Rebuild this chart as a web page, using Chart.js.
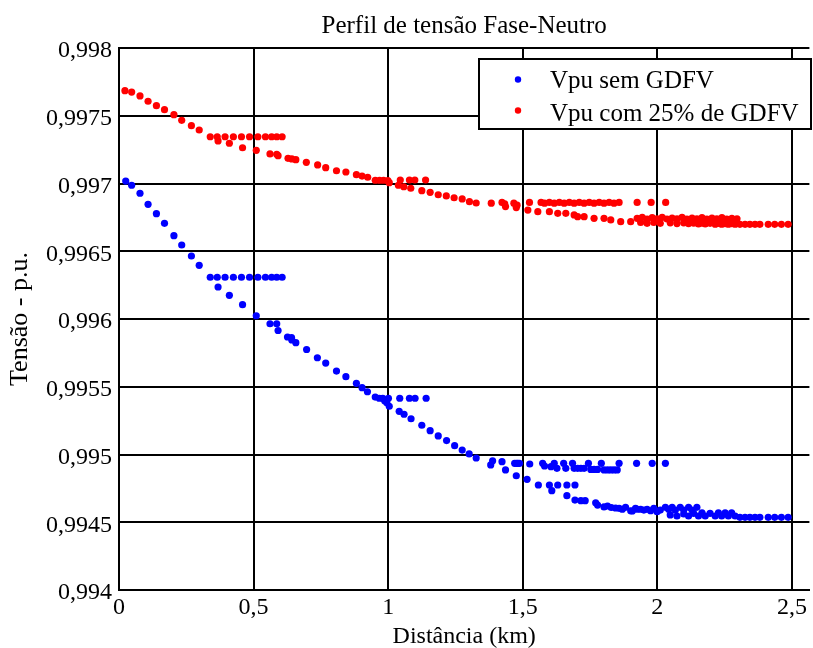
<!DOCTYPE html>
<html>
<head>
<meta charset="utf-8">
<script src="https://cdn.jsdelivr.net/npm/chart.js@4/dist/chart.umd.min.js"></script>
<style>
  html, body { margin: 0; padding: 0; background: #ffffff; }
  #wrap { width: 813px; height: 648px; }
</style>
</head>
<body>
<div id="wrap"><canvas id="chart" width="813" height="648"></canvas></div>
<script>
// Axis ticks
const xTicks = [0, 0.5, 1, 1.5, 2, 2.5];
const xTickLabels = ['0', '0,5', '1', '1,5', '2', '2,5'];
const yTicks = [0.994, 0.9945, 0.995, 0.9955, 0.996, 0.9965, 0.997, 0.9975, 0.998];
const yTickLabels = ['0,994', '0,9945', '0,995', '0,9955', '0,996', '0,9965', '0,997', '0,9975', '0,998'];

// Vpu sem GDFV: distance (km) and voltage (p.u.)
const semX = [
  0.025, 0.047, 0.078, 0.108, 0.139, 0.169, 0.204, 0.233, 0.269, 0.298,
  0.339, 0.365, 0.394, 0.425, 0.455, 0.485, 0.516, 0.544, 0.567, 0.586, 0.606,
  0.368, 0.410, 0.459, 0.510, 0.561, 0.586, 0.591, 0.626, 0.641, 0.642, 0.657,
  0.697, 0.737, 0.768, 0.808, 0.843, 0.882, 0.903, 0.923, 0.952, 0.967, 0.980,
  0.987, 0.995, 1.001, 1.004,
  1.043, 1.079, 1.100, 1.141,
  1.041, 1.059, 1.085, 1.125, 1.156, 1.186, 1.217, 1.247, 1.275, 1.301, 1.327,
  1.381, 1.388, 1.423,
  1.470, 1.477, 1.482, 1.488, 1.526, 1.574, 1.617, 1.652, 1.685, 1.744, 1.792, 1.858, 1.923, 1.981, 2.030,
  1.581, 1.605, 1.627, 1.660, 1.691, 1.704, 1.716, 1.728, 1.753, 1.765, 1.778, 1.802, 1.815, 1.827, 1.839, 1.851,
  1.436, 1.476, 1.516, 1.558, 1.599, 1.608, 1.630, 1.664, 1.694,
  1.664, 1.694, 1.716, 1.732, 1.771, 1.778, 1.802, 1.815, 1.829, 1.845, 1.870, 1.882, 1.907, 1.925,
  1.858, 1.901, 1.919, 1.938, 1.950, 1.962, 1.975, 1.987, 1.999, 2.011, 2.030, 2.042, 2.055, 2.067,
  2.085, 2.098, 2.116, 2.129, 2.147,
  2.048, 2.073, 2.098, 2.116, 2.135, 2.153, 2.166, 2.178, 2.196, 2.215, 2.227, 2.239, 2.252, 2.264,
  2.276, 2.289,
  2.307, 2.326, 2.344, 2.363, 2.381, 2.412, 2.436, 2.461, 2.486
];
const semY = [
  0.997018, 0.996987, 0.996928, 0.996846, 0.996777, 0.996706, 0.996615, 0.996546, 0.996465, 0.996396,
  0.996308, 0.996308, 0.996308, 0.996308, 0.996308, 0.996308, 0.996308, 0.996308, 0.996308, 0.996308, 0.996308,
  0.996236, 0.996175, 0.996106, 0.996024, 0.995965, 0.995965, 0.995915, 0.995867, 0.995863, 0.995845, 0.995825,
  0.995775, 0.995714, 0.995675, 0.995616, 0.995574, 0.995525, 0.995493, 0.995463, 0.995424, 0.995415, 0.995415,
  0.995397, 0.995382, 0.995415, 0.995356,
  0.995415, 0.995415, 0.995415, 0.995415,
  0.995319, 0.995297, 0.995264, 0.995216, 0.995176, 0.995137, 0.995103, 0.995065, 0.995033, 0.995004, 0.994974,
  0.994923, 0.994954, 0.994947,
  0.994935, 0.994935, 0.994935, 0.994935, 0.994930, 0.994935, 0.994935, 0.994935, 0.994935, 0.994935, 0.994935, 0.994935, 0.994935, 0.994935, 0.994935,
  0.994915, 0.994910, 0.994898, 0.994898, 0.994898, 0.994898, 0.994898, 0.994898, 0.994890, 0.994890, 0.994890, 0.994886, 0.994886, 0.994886, 0.994886, 0.994886,
  0.994886, 0.994843, 0.994817, 0.994775, 0.994775, 0.994733, 0.994775, 0.994775, 0.994775,
  0.994696, 0.994664, 0.994659, 0.994659, 0.994644, 0.994627, 0.994613, 0.994620, 0.994609, 0.994605, 0.994596, 0.994610, 0.994583, 0.994596,
  0.994603, 0.994585, 0.994603, 0.994596, 0.994590, 0.994596, 0.994585, 0.994603, 0.994578, 0.994590, 0.994610, 0.994596, 0.994610, 0.994590,
  0.994610, 0.994590, 0.994610, 0.994590, 0.994610,
  0.994554, 0.994546, 0.994561, 0.994546, 0.994566, 0.994546, 0.994570, 0.994546, 0.994566, 0.994546, 0.994570, 0.994546, 0.994570, 0.994546,
  0.994570, 0.994546,
  0.994536, 0.994536, 0.994536, 0.994536, 0.994536, 0.994536, 0.994536, 0.994536, 0.994536
];

// Vpu com 25% de GDFV: distance (km) and voltage (p.u.)
const comX = [
  0.022, 0.047, 0.078, 0.108, 0.139, 0.169, 0.204, 0.233, 0.269, 0.298,
  0.339, 0.365, 0.394, 0.425, 0.455, 0.485, 0.516, 0.544, 0.567, 0.586, 0.606,
  0.368, 0.410, 0.459, 0.510, 0.561, 0.586, 0.591, 0.628, 0.642, 0.657,
  0.696, 0.738, 0.768, 0.808, 0.843, 0.882, 0.903, 0.924, 0.952, 0.968, 0.983, 0.999, 1.004,
  1.045, 1.079, 1.099, 1.139,
  1.038, 1.058, 1.084, 1.125, 1.156, 1.186, 1.216, 1.245, 1.275, 1.302, 1.327,
  1.383, 1.423, 1.433, 1.467, 1.479, 1.525, 1.568,
  1.581, 1.599, 1.617, 1.636, 1.654, 1.673, 1.691, 1.710, 1.728, 1.747, 1.765, 1.784, 1.802, 1.821, 1.839, 1.858,
  1.925, 1.977, 2.031,
  1.436, 1.476, 1.519, 1.556, 1.599, 1.630, 1.660, 1.691, 1.704, 1.728, 1.765, 1.802, 1.827, 1.864, 1.901,
  1.925, 1.944, 1.962, 1.981, 1.999, 2.018, 2.036, 2.055, 2.073, 2.092, 2.110, 2.129, 2.147, 2.166,
  2.184, 2.203, 2.221, 2.240, 2.258, 2.277, 2.296,
  1.938, 1.962, 1.987, 2.011, 2.048, 2.073, 2.098, 2.116, 2.135, 2.153, 2.166, 2.178, 2.196, 2.215,
  2.227, 2.239, 2.252, 2.264, 2.276, 2.289,
  2.307, 2.326, 2.344, 2.363, 2.381, 2.412, 2.436, 2.461, 2.486
];
const comY = [
  0.997685, 0.997675, 0.997646, 0.997607, 0.997574, 0.997545, 0.997508, 0.997466, 0.997427, 0.997395,
  0.997345, 0.997345, 0.997345, 0.997345, 0.997345, 0.997345, 0.997345, 0.997345, 0.997345, 0.997345, 0.997345,
  0.997314, 0.997297, 0.997264, 0.997245, 0.997218, 0.997215, 0.997205, 0.997186, 0.997181, 0.997176,
  0.997156, 0.997137, 0.997117, 0.997094, 0.997085, 0.997065, 0.997055, 0.997046, 0.997024, 0.997024, 0.997024, 0.997021, 0.997006,
  0.997026, 0.997026, 0.997026, 0.997026,
  0.996987, 0.996976, 0.996965, 0.996947, 0.996935, 0.996917, 0.996908, 0.996895, 0.996886, 0.996866, 0.996856,
  0.996855, 0.996860, 0.996850, 0.996855, 0.996840, 0.996860, 0.996860,
  0.996855, 0.996860, 0.996855, 0.996860, 0.996855, 0.996860, 0.996855, 0.996860, 0.996855, 0.996860, 0.996855, 0.996860, 0.996855, 0.996860, 0.996855, 0.996860,
  0.996860, 0.996860, 0.996860,
  0.996830, 0.996822, 0.996804, 0.996792, 0.996792, 0.996780, 0.996780, 0.996768, 0.996755, 0.996755, 0.996743, 0.996743, 0.996731, 0.996718, 0.996718,
  0.996743, 0.996750, 0.996738, 0.996748, 0.996740, 0.996750, 0.996738, 0.996745, 0.996740, 0.996750, 0.996738, 0.996745, 0.996740, 0.996748,
  0.996738, 0.996745, 0.996740, 0.996748, 0.996738, 0.996743, 0.996740,
  0.996712, 0.996706, 0.996712, 0.996706, 0.996710, 0.996704, 0.996710, 0.996704, 0.996708, 0.996702, 0.996708, 0.996702, 0.996706, 0.996700,
  0.996706, 0.996700, 0.996704, 0.996700, 0.996704, 0.996700,
  0.996699, 0.996699, 0.996699, 0.996699, 0.996699, 0.996699, 0.996699, 0.996699, 0.996699
];

const SERIF = '"Liberation Serif", "Times New Roman", serif';
const TITLE_TEXT = 'Perfil de tensão Fase-Neutro';

function toPoints(xs, ys) {
  return xs.map((x, i) => ({ x: x, y: ys[i] }));
}

// Title centred over the plot area, plus a boxed legend in the upper right
const decorations = {
  id: 'decorations',
  afterDraw(chart) {
    const ctx = chart.ctx;
    const area = chart.chartArea;
    ctx.save();
    ctx.fillStyle = '#000';
    ctx.font = '25px ' + SERIF;
    ctx.textAlign = 'center';
    ctx.textBaseline = 'alphabetic';
    ctx.fillText(TITLE_TEXT, (area.left + area.right) / 2, 33);

    const bx = 479, by = 59, bw = 332, bh = 70;
    ctx.fillStyle = '#fff';
    ctx.fillRect(bx, by, bw, bh);
    ctx.strokeStyle = '#000';
    ctx.lineWidth = 2;
    ctx.strokeRect(bx, by, bw, bh);

    ctx.font = '25px ' + SERIF;
    ctx.textAlign = 'left';
    chart.data.datasets.forEach((ds, i) => {
      const cy = 79.5 + i * 31;
      ctx.fillStyle = ds.backgroundColor;
      ctx.beginPath();
      ctx.arc(518, cy, 3.2, 0, Math.PI * 2);
      ctx.fill();
      ctx.fillStyle = '#000';
      ctx.fillText(ds.label, 550, 87.5 + i * 33);
    });
    ctx.restore();
  }
};

new Chart(document.getElementById('chart'), {
  type: 'scatter',
  data: {
    datasets: [
      {
        label: 'Vpu sem GDFV',
        data: toPoints(semX, semY),
        backgroundColor: '#0000ff',
        borderWidth: 0,
        pointRadius: 3.6,
        pointHoverRadius: 3.6
      },
      {
        label: 'Vpu com 25% de GDFV',
        data: toPoints(comX, comY),
        backgroundColor: '#ff0000',
        borderWidth: 0,
        pointRadius: 3.6,
        pointHoverRadius: 3.6
      }
    ]
  },
  options: {
    responsive: false,
    animation: false,
    devicePixelRatio: 1,
    layout: { padding: { top: 48, left: 0, right: 0, bottom: 0 } },
    plugins: {
      legend: { display: false },
      title: { display: false },
      tooltip: { enabled: false }
    },
    scales: {
      x: {
        type: 'linear',
        min: 0,
        max: 2.565,
        afterBuildTicks: s => { s.ticks = xTicks.map(v => ({ value: v })); },
        afterFit: s => { s.height = 58; },
        ticks: {
          callback: v => xTickLabels[xTicks.indexOf(v)],
          color: '#000',
          font: { family: SERIF, size: 24 },
          padding: 3,
          maxRotation: 0,
          autoSkip: false
        },
        grid: { color: '#000', lineWidth: 2, drawTicks: false },
        border: { color: '#000', width: 2 },
        title: {
          display: true,
          text: 'Distância (km)',
          color: '#000',
          font: { family: SERIF, size: 24 },
          padding: { top: 0, bottom: -3 }
        }
      },
      y: {
        type: 'linear',
        min: 0.994,
        max: 0.998,
        afterBuildTicks: s => { s.ticks = yTicks.map(v => ({ value: v })); },
        afterFit: s => { s.width = 119; },
        ticks: {
          callback: v => yTickLabels[yTicks.indexOf(v)],
          color: '#000',
          font: { family: SERIF, size: 24 },
          padding: 7,
          labelOffset: 3
        },
        grid: { color: '#000', lineWidth: 2, drawTicks: false },
        border: { color: '#000', width: 2 },
        title: {
          display: true,
          text: 'Tensão - p.u.',
          color: '#000',
          font: { family: SERIF, size: 26 },
          padding: { top: 5, bottom: 0 }
        }
      }
    }
  },
  plugins: [decorations]
});
</script>
</body>
</html>
